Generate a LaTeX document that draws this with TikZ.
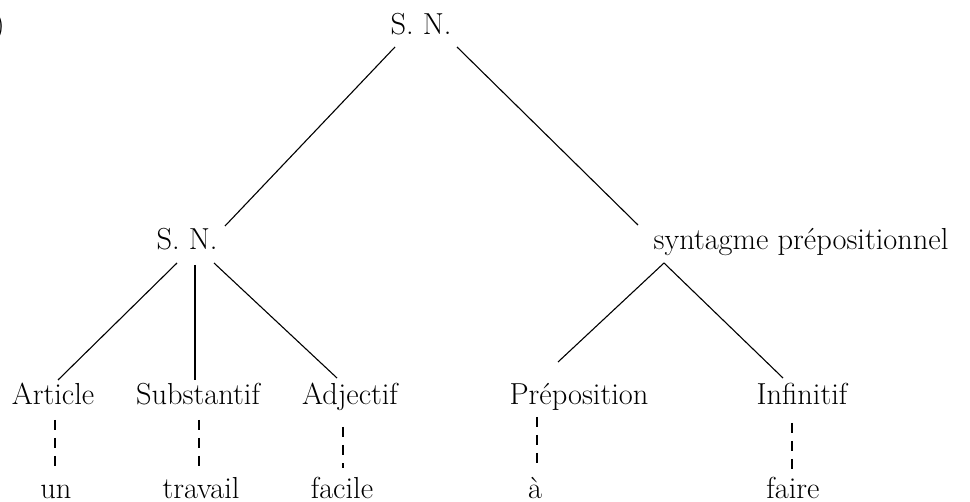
\documentclass[tikz,border=0pt]{standalone}
\usetikzlibrary{calc}
\begin{document}
\begin{tikzpicture}[x=0.5pt,y=0.5pt,
  lbl/.style={anchor=base,inner sep=0pt,font=\fontsize{15.2}{18}\selectfont},
  branch/.style={line width=0.55pt},
  dash link/.style={line width=0.95pt,dash pattern=on 5pt off 4pt}]
\useasboundingbox (0,0) rectangle (970,-502);
% labels
\node[lbl,anchor=base east] (paren) at (5,-35) {)};
\node[lbl] (top) at (421,-35) {S. N.};
\node[lbl] (sn) at (187,-250) {S. N.};
\node[lbl] (syn) at (801,-250) {syntagme prépositionnel};
\node[lbl] (art) at (53,-405) {Article};
\node[lbl] (sub) at (198,-405) {Substantif};
\node[lbl] (adj) at (350,-405) {Adjectif};
\node[lbl] (prep) at (579,-405) {Préposition};
\node[lbl] (inf) at (802,-405) {Infinitif};
\node[lbl] (un) at (56,-498) {un};
\node[lbl] (trav) at (201,-498) {travail};
\node[lbl] (fac) at (342,-498) {facile};
\node[lbl] (a) at (535,-498) {à};
\node[lbl] (faire) at (793,-498) {faire};
% branches
\draw[branch] ($(top.base)+(-26,-12)$) -- ($(sn.base)+(38,24)$);
\draw[branch] ($(top.base)+(36,-12)$) -- ($(syn.base)+(-163,25)$);
\draw[branch] ($(sn.base)+(-10,-13)$) -- ($(art.base)+(5,25)$);
\draw[branch] ($(sn.base)+(8,-15)$) -- ($(sub.base)+(-3,25)$);
\draw[branch] ($(sn.base)+(27,-13)$) -- ($(adj.base)+(-13,27)$);
\draw[branch] ($(syn.base)+(-137,-13)$) -- ($(prep.base)+(-21,43)$);
\draw[branch] ($(syn.base)+(-137,-13)$) -- ($(inf.base)+(-19,27)$);
% dashed links
\draw[dash link] ($(art.base)+(2,-15)$) -- ($(un.base)+(-1,30)$);
\draw[dash link] ($(sub.base)+(1,-15)$) -- ($(trav.base)+(-2,26)$);
\draw[dash link] ($(adj.base)+(-7,-22)$) -- ($(fac.base)+(1,30)$);
\draw[dash link] ($(prep.base)+(-42,-12)$) -- ($(a.base)+(2,28)$);
\draw[dash link] ($(inf.base)+(-10,-18)$) -- ($(faire.base)+(-1,26)$);
\end{tikzpicture}
\end{document}
